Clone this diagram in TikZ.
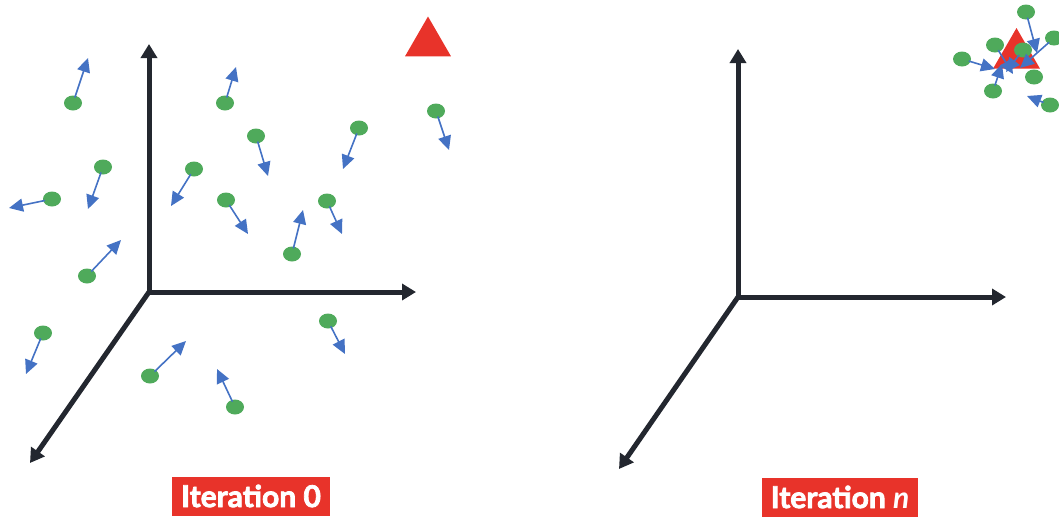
\documentclass[tikz,border=0pt]{standalone}
\usepackage{fontspec}
\setmainfont{Lato}
\newfontfamily\capfont{Lato}[BoldFeatures={FakeBold=2.5}]
\usepackage{xcolor}
\usetikzlibrary{shapes.geometric, arrows.meta, positioning}

\definecolor{axiscol}{HTML}{23272F}
\definecolor{goalred}{HTML}{E8332A}
\definecolor{partgreen}{HTML}{4FAA5B}
\definecolor{velblue}{HTML}{4472C4}

\tikzset{
    axis/.style={draw=axiscol, line width=5pt,
        -{Triangle[length=14pt,width=16pt]}},
    particle/.style={ellipse, fill=partgreen, draw=none,
        minimum width=18pt, minimum height=15pt, inner sep=0pt},
    velocity/.style={draw=velblue, line width=1.6pt, shorten <=-2pt,
        -{Triangle[length=14pt,width=13pt]}},
    goal/.style={regular polygon, regular polygon sides=3,
        fill=goalred, draw=none, inner sep=0pt},
    caption/.style={fill=goalred, text=white, inner sep=0pt,
        minimum height=39pt,
        font=\capfont\fontsize{30}{32}\selectfont\bfseries}
}

\begin{document}
\begin{tikzpicture}[x=1pt, y=-1pt]
    \useasboundingbox (0,0) rectangle (1059,520);

    % axes, iteration 0
    \coordinate (oA) at (149,292);
    \coordinate (yA) at (149,44);
    \coordinate (xA) at (416,292);
    \coordinate (zA) at (30,463);
    \draw[axis] (oA) -- (yA);
    \draw[axis] (oA) -- (xA);
    \draw[axis] (oA) -- (zA);

    % axes, iteration n
    \coordinate (oB) at (738,297);
    \coordinate (yB) at (738,49);
    \coordinate (xB) at (1006,297);
    \coordinate (zB) at (619,469);
    \draw[axis] (oB) -- (yB);
    \draw[axis] (oB) -- (xB);
    \draw[axis] (oB) -- (zB);

    % targets
    \node[goal, minimum size=53pt] (goalA) at (428,43) {};
    \node[goal, minimum size=54pt] (goalB) at (1016.5,55) {};

    % swarm at iteration 0
    \node[particle] (p1) at (73,103) {};   \coordinate (v1) at (88,58);
    \node[particle] (p2) at (225,103) {};  \coordinate (v2) at (236,67);
    \node[particle] (p3) at (436,111) {};  \coordinate (v3) at (449,150);
    \node[particle] (p4) at (256,136) {};  \coordinate (v4) at (268,176);
    \node[particle] (p5) at (359,128) {};  \coordinate (v5) at (343,169);
    \node[particle] (p6) at (103,167) {};  \coordinate (v6) at (88,209);
    \node[particle] (p7) at (194,169) {};  \coordinate (v7) at (171,206);
    \node[particle] (p8) at (52,199) {};   \coordinate (v8) at (9,208);
    \node[particle] (p9) at (226,200) {};  \coordinate (v9) at (248,234);
    \node[particle] (p10) at (327,201) {}; \coordinate (v10) at (342,234);
    \node[particle] (p11) at (292,254) {}; \coordinate (v11) at (303,210);
    \node[particle] (p12) at (87,276) {};  \coordinate (v12) at (121,240);
    \node[particle] (p13) at (43,333) {};  \coordinate (v13) at (26,374);
    \node[particle] (p14) at (328,321) {}; \coordinate (v14) at (345,354);
    \node[particle] (p15) at (150,376) {}; \coordinate (v15) at (186,341);
    \node[particle] (p16) at (235,407) {}; \coordinate (v16) at (217,369);

    \draw[velocity] (p1) -- (v1);
    \draw[velocity] (p2) -- (v2);
    \draw[velocity] (p3) -- (v3);
    \draw[velocity] (p4) -- (v4);
    \draw[velocity] (p5) -- (v5);
    \draw[velocity] (p6) -- (v6);
    \draw[velocity] (p7) -- (v7);
    \draw[velocity] (p8) -- (v8);
    \draw[velocity] (p9) -- (v9);
    \draw[velocity] (p10) -- (v10);
    \draw[velocity] (p11) -- (v11);
    \draw[velocity] (p12) -- (v12);
    \draw[velocity] (p13) -- (v13);
    \draw[velocity] (p14) -- (v14);
    \draw[velocity] (p15) -- (v15);
    \draw[velocity] (p16) -- (v16);

    % swarm at iteration n, packed round the target
    \node[particle] (q1) at (1026,12) {};  \coordinate (w1) at (1037,53);
    \node[particle] (q2) at (1054,38) {};  \coordinate (w2) at (1020,68);
    \node[particle] (q3) at (995,45) {};   \coordinate (w3) at (1013,74);
    \node[particle] (q4) at (962,59) {};   \coordinate (w4) at (995,69);
    \node[particle] (q5) at (1023,50) {};  \coordinate (w5) at (1006,72);
    \node[particle] (q6) at (1034,77) {};
    \node[particle] (q7) at (993,91) {};   \coordinate (w7) at (1002,64);
    \node[particle] (q8) at (1050,105) {}; \coordinate (w8) at (1027,96);

    \draw[velocity] (q1) -- (w1);
    \draw[velocity] (q2) -- (w2);
    \draw[velocity] (q3) -- (w3);
    \draw[velocity] (q4) -- (w4);
    \draw[velocity] (q5) -- (w5);
    \draw[velocity] (q7) -- (w7);
    \draw[velocity] (q8) -- (w8);

    % captions
    \node[caption, minimum width=158pt] (capA) at (251,496) {Iteration 0};
    \node[caption, minimum width=156pt] (capB) at (840,497)
        {Iteration \textit{n}};
\end{tikzpicture}
\end{document}
